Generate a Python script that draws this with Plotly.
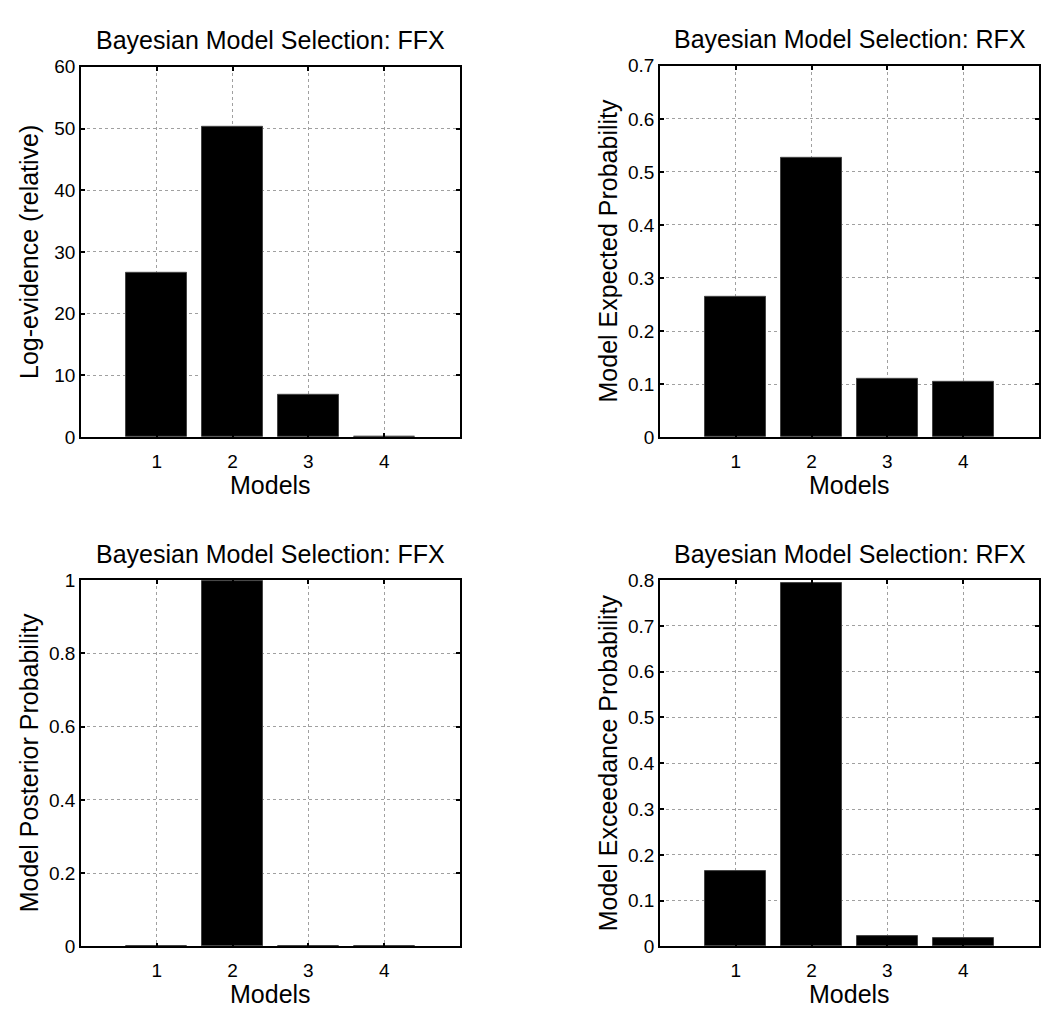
import plotly.graph_objects as go

# ---- data ----
models = [1, 2, 3, 4]
ffx_log_evidence = [26.7, 50.2, 6.8, 0.0]
rfx_expected_prob = [0.265, 0.527, 0.110, 0.104]
ffx_posterior_prob = [0.002, 0.996, 0.002, 0.002]
rfx_exceedance_prob = [0.165, 0.793, 0.023, 0.019]

titles = ["Bayesian Model Selection: FFX", "Bayesian Model Selection: RFX",
          "Bayesian Model Selection: FFX", "Bayesian Model Selection: RFX"]
ylabels = ["Log-evidence (relative)", "Model Expected Probability",
           "Model Posterior Probability", "Model Exceedance Probability"]
xlabel = "Models"
y_ranges = [[0, 60], [0, 0.7], [0, 1], [0, 0.8]]
y_dticks = [10, 0.1, 0.2, 0.1]
series = [ffx_log_evidence, rfx_expected_prob, ffx_posterior_prob, rfx_exceedance_prob]

W, H = 1041, 1026
FONT = "Liberation Sans, Arial, sans-serif"

# pixel boxes (left, right, top, bottom)
boxes = [(81, 460, 58, 436), (660, 1039, 57, 436),
         (81, 460, 582, 956), (660, 1039, 582, 956)]

fig = go.Figure()
annotations = []
for i, (vals, box) in enumerate(zip(series, boxes)):
    n = i + 1
    xa = "x" if n == 1 else f"x{n}"
    ya = "y" if n == 1 else f"y{n}"
    fig.add_trace(go.Bar(x=models, y=vals, width=0.8, xaxis=xa, yaxis=ya,
                         marker=dict(color="black", line=dict(color="#444444", width=1)),
                         showlegend=False))
    l, r, t, b = box
    xd = [l / W, r / W]
    yd = [1 - b / H, 1 - t / H]
    common = dict(showline=True, linecolor="black", linewidth=1.5, mirror="allticks",
                  ticks="inside", ticklen=4, tickcolor="black", tickwidth=1.5,
                  showgrid=True, gridcolor="#a0a0a0", griddash="dot", gridwidth=1,
                  zeroline=False, tickfont=dict(family=FONT, size=19, color="black"))
    fig.layout[f"xaxis{'' if n == 1 else n}"] = dict(
        domain=xd, anchor=ya, range=[0, 5], tickvals=models,
        ticklabelstandoff=6, **common)
    fig.layout[f"yaxis{'' if n == 1 else n}"] = dict(
        domain=yd, anchor=xa, range=y_ranges[i], dtick=y_dticks[i], **common)
    cx = (l + r) / 2 / W
    annotations.append(dict(text=titles[i], x=cx, y=1 - (t - 27) / H, xref="paper", yref="paper",
                            xanchor="center", yanchor="middle", showarrow=False,
                            font=dict(family=FONT, size=25, color="black")))
    annotations.append(dict(text=xlabel, x=cx, y=1 - (b + 49) / H, xref="paper", yref="paper",
                            xanchor="center", yanchor="middle", showarrow=False,
                            font=dict(family=FONT, size=25, color="black")))
    annotations.append(dict(text=ylabels[i], x=(l - 52) / W, y=1 - (t + b) / 2 / H,
                            xref="paper", yref="paper", textangle=-90,
                            xanchor="center", yanchor="middle", showarrow=False,
                            font=dict(family=FONT, size=25, color="black")))

fig.update_layout(width=W, height=H, margin=dict(l=0, r=0, t=0, b=0),
                  paper_bgcolor="white", plot_bgcolor="white",
                  annotations=annotations, bargap=0)
fig.write_html("out.html")
